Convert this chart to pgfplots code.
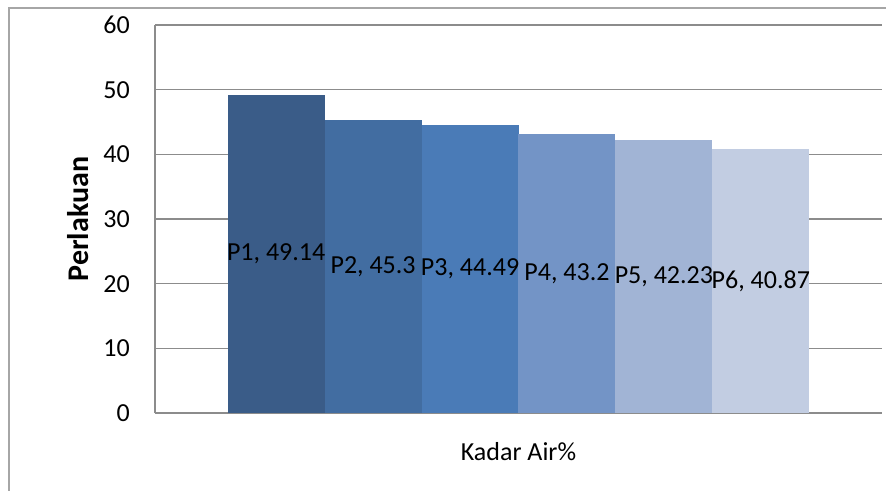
\documentclass[border=0pt]{standalone}
\usepackage{pgfplots}
\pgfplotsset{compat=1.18}
\usepackage{fontspec}
\setmainfont{Carlito}
\definecolor{c1}{HTML}{3A5C88}
\definecolor{c2}{HTML}{426DA1}
\definecolor{c3}{HTML}{4A7BB7}
\definecolor{c4}{HTML}{7394C6}
\definecolor{c5}{HTML}{A1B4D5}
\definecolor{c6}{HTML}{C2CDE2}
\definecolor{gridc}{HTML}{8C8C8C}
\begin{document}
\begin{tikzpicture}
\useasboundingbox (0,0) rectangle (886bp,491bp);
\draw[color=black!35, line width=1.3bp] (9bp,0) -- (9bp,483bp) -- (886bp,483bp);
\begin{axis}[
  at={(155bp,78bp)}, anchor=south west,
  scale only axis, width=727bp, height=388bp,
  ymin=0, ymax=60, ytick={0,10,...,60},
  xmin=-1.25, xmax=6.25,
  xtick={2.5}, xticklabels={Kadar Air\%},
  ybar, bar width=97bp, bar shift=0pt,
  axis x line*=bottom, axis y line*=left,
  axis line style={gridc, line width=1.5bp},
  ymajorgrids, grid style={gridc, line width=1.5bp},
  major tick length=0pt,
  font=\fontsize{26bp}{30bp}\selectfont,
  /pgf/number format/assume math mode=true,
  yticklabel style={inner sep=0pt, anchor=east, xshift=-25bp},
  xticklabel style={inner sep=0pt, anchor=center, yshift=-39bp},
  ylabel={\fontsize{30bp}{34bp}\selectfont\bfseries Perlakuan},
  ylabel style={at={(axis description cs:-0.1059,0.5)}, anchor=center, inner sep=0pt},
  point meta=explicit symbolic,
  visualization depends on={y \as \rawy},
  nodes near coords,
  every node near coord/.append style={anchor=center, inner sep=0pt, yshift=-\rawy*3.2333bp, text=black},
  clip=false,
]
\addplot[fill=c1, draw=none] coordinates {(0,49.14) [P1, 49.14]};
\addplot[fill=c2, draw=none] coordinates {(1,45.3) [P2, 45.3]};
\addplot[fill=c3, draw=none] coordinates {(2,44.49) [P3, 44.49]};
\addplot[fill=c4, draw=none] coordinates {(3,43.2) [P4, 43.2]};
\addplot[fill=c5, draw=none] coordinates {(4,42.23) [P5, 42.23]};
\addplot[fill=c6, draw=none] coordinates {(5,40.87) [P6, 40.87]};
\end{axis}
\end{tikzpicture}
\end{document}
